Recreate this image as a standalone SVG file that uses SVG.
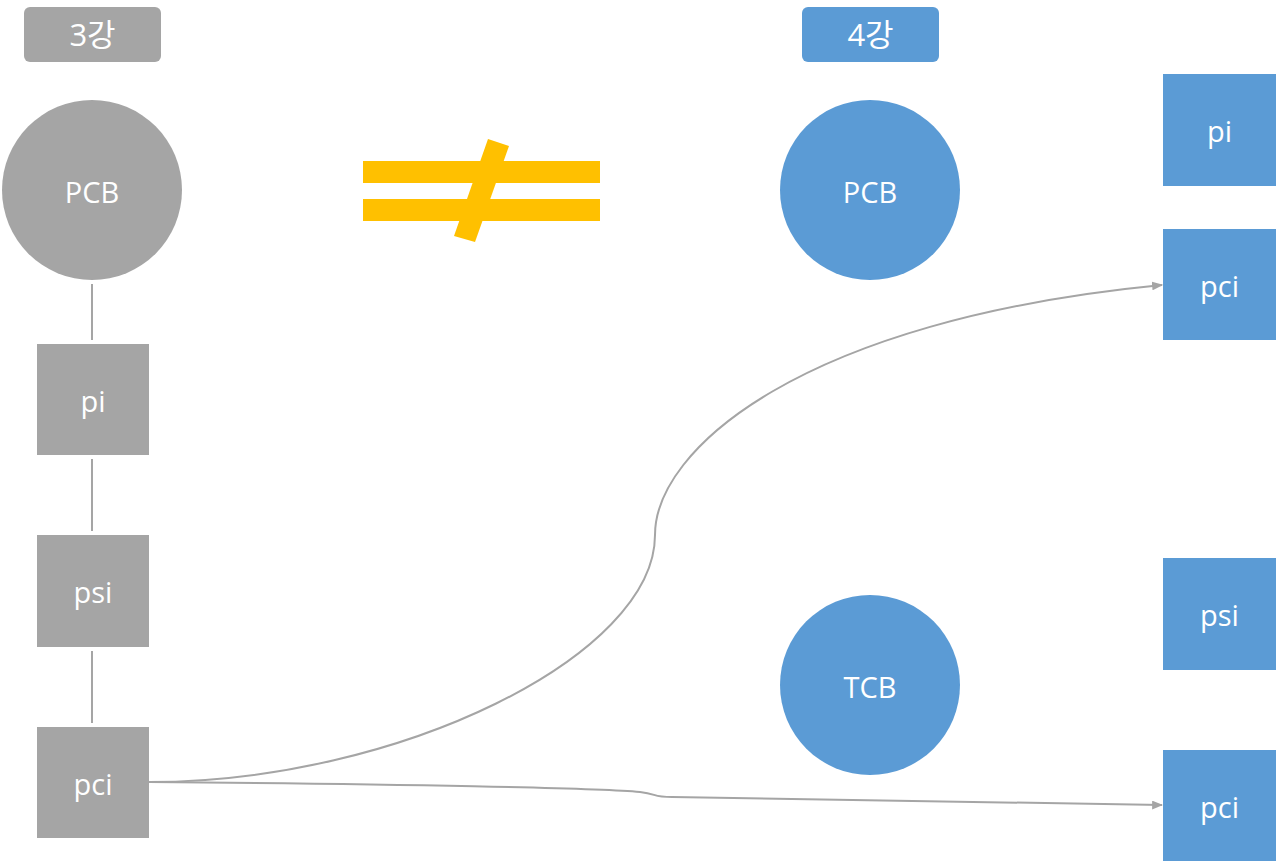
<svg xmlns="http://www.w3.org/2000/svg" width="1280" height="866" viewBox="0 0 1280 866">
<style>
.g{fill:#a5a5a5}
.b{fill:#5b9bd5}
.t{fill:#ffffff;font-family:"Open Sans","Noto Sans CJK KR",sans-serif;font-size:29px;text-anchor:middle;dominant-baseline:central}
.h{fill:#ffffff;font-family:"Open Sans","Noto Sans CJK KR",sans-serif;font-size:31px;text-anchor:middle;dominant-baseline:central}
.ln{stroke:#a5a5a5;stroke-width:2;fill:none}
.cn{stroke:#a5a5a5;stroke-width:2;fill:none;marker-end:url(#arr)}
</style>
<defs>
<marker id="arr" viewBox="0 0 10 8" refX="9" refY="4" markerWidth="11" markerHeight="9" markerUnits="userSpaceOnUse" orient="auto"><path d="M0,0 L10,4 L0,8 z" fill="#a5a5a5"/></marker>
</defs>
<rect width="1280" height="866" fill="#ffffff"/>
<g id="connectors">
<line class="ln" x1="92" y1="284" x2="92" y2="340"/>
<line class="ln" x1="92" y1="459" x2="92" y2="531"/>
<line class="ln" x1="92" y1="651" x2="92" y2="723"/>
<path class="cn" d="M149,782 C400,782 655,655 655,535 C655,450 800,320 1162,285"/>
<path class="cn" d="M149,782 C400,784 600,788 640,792 C658,794 652,797 672,797 C900,801 1100,805 1162,805"/>
</g>
<g id="label3">
<rect class="g" x="24" y="7" width="137" height="55" rx="6"/>
<text class="h" x="92.5" y="34">3강</text>
</g>
<g id="label4">
<rect class="b" x="802" y="7" width="137" height="55" rx="6"/>
<text class="h" x="870.5" y="34">4강</text>
</g>
<g id="neq">
<rect x="363" y="161" width="237" height="22" fill="#ffc000"/>
<rect x="363" y="199" width="237" height="22" fill="#ffc000"/>
<polygon points="488,139 509,146 475,242 454,236" fill="#ffc000"/>
</g>
<g id="pcb3"><circle class="g" cx="92" cy="190" r="90"/><text class="t" x="92" y="191">PCB</text></g>
<g id="pi3"><rect class="g" x="37" y="344" width="112" height="111"/><text class="t" x="93" y="400">pi</text></g>
<g id="psi3"><rect class="g" x="37" y="535" width="112" height="112"/><text class="t" x="93" y="591">psi</text></g>
<g id="pci3"><rect class="g" x="37" y="727" width="112" height="111"/><text class="t" x="93" y="783">pci</text></g>
<g id="pcb4"><circle class="b" cx="870" cy="190" r="90"/><text class="t" x="870" y="191">PCB</text></g>
<g id="tcb4"><circle class="b" cx="870" cy="685" r="90"/><text class="t" x="870" y="686">TCB</text></g>
<g id="pi4"><rect class="b" x="1163" y="74" width="113" height="112"/><text class="t" x="1219.5" y="130">pi</text></g>
<g id="pci4a"><rect class="b" x="1163" y="229" width="113" height="111"/><text class="t" x="1219.5" y="285">pci</text></g>
<g id="psi4"><rect class="b" x="1163" y="558" width="113" height="112"/><text class="t" x="1219.5" y="614">psi</text></g>
<g id="pci4b"><rect class="b" x="1163" y="750" width="113" height="111"/><text class="t" x="1219.5" y="806">pci</text></g>
</svg>
